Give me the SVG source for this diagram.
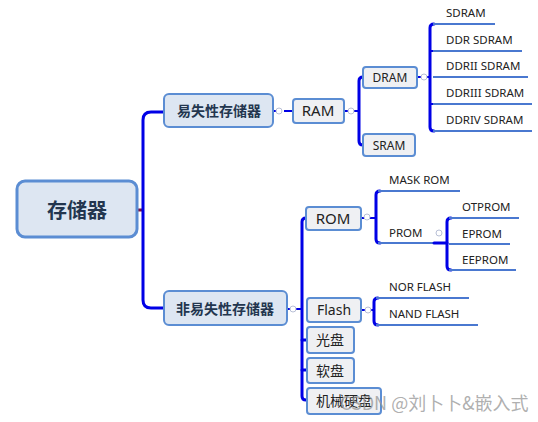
<svg xmlns="http://www.w3.org/2000/svg" width="538" height="422" viewBox="0 0 538 422">
<style>
.trunk{fill:none;stroke:#0000e6;stroke-width:3;stroke-linecap:round;stroke-linejoin:round}
.thin{fill:none;stroke:#0000e6;stroke-width:2}
.leaf{fill:none;stroke:#4a78d0;stroke-width:2}
.col{fill:#fff;stroke:#b8bfd6;stroke-width:1}
.b1{fill:#dde6f2;stroke:#5b8dd3;stroke-width:2}
.b2{fill:#eff0f3;stroke:#5b8dd3;stroke-width:2}
.root{fill:#dde6f2;stroke:#5b8dd3;stroke-width:3}
.cn{font-family:"Noto Sans CJK SC","Noto Sans",sans-serif;font-weight:bold;fill:#23364f;text-anchor:middle}
.en{font-family:"Noto Sans","Open Sans",sans-serif;fill:#222;text-anchor:middle}
.lf{font-family:"Noto Sans","Open Sans",sans-serif;fill:#222;font-size:11.5px}
.cz{font-family:"Noto Sans CJK SC",sans-serif;fill:#222;text-anchor:middle;font-size:14px}
</style>
<rect width="538" height="422" fill="#fff"/>
<g id="connectors">
  <line x1="137" y1="210" x2="143" y2="210" stroke="#7a1444" stroke-width="3"/>
  <path class="trunk" d="M163,112 H151 Q143,112 143,120 V300 Q143,308 151,308 H163"/>
  <!-- volatile to RAM -->
  <line class="thin" x1="274" y1="111" x2="293" y2="111" stroke-dasharray="3,2"/>
  <line class="thin" x1="284" y1="111" x2="293" y2="111"/>
  <circle class="col" cx="279" cy="111" r="3"/>
  <!-- RAM to DRAM/SRAM -->
  <line class="thin" x1="345" y1="111" x2="359" y2="111"/>
  <circle class="col" cx="351" cy="111" r="3"/>
  <path class="trunk" d="M363,77 Q359,77 359,81 V141 Q359,145 363,145"/>
  <!-- DRAM to leaves -->
  <line class="thin" x1="418" y1="77" x2="430" y2="77"/>
  <circle class="col" cx="424" cy="77" r="3"/>
  <path class="trunk" d="M434,24 Q430,24 430,28 V127 Q430,131 434,131"/>
  <line class="thin" x1="430" y1="51" x2="436" y2="51"/>
  <line class="thin" x1="430" y1="104" x2="436" y2="104"/>
  <line class="leaf" x1="433" y1="24" x2="495" y2="24"/>
  <line class="leaf" x1="433" y1="51" x2="522" y2="51"/>
  <line class="leaf" x1="433" y1="77" x2="528" y2="77"/>
  <line class="leaf" x1="433" y1="104" x2="532" y2="104"/>
  <line class="leaf" x1="433" y1="131" x2="532" y2="131"/>
  <!-- nonvolatile trunk -->
  <line class="thin" x1="288" y1="309" x2="302" y2="309"/>
  <circle class="col" cx="293" cy="309" r="3"/>
  <path class="trunk" d="M307,218 H306 Q302,218 302,222 V396 Q302,400 306,400 H307"/>
  <line class="trunk" x1="302" y1="340" x2="307" y2="340"/>
  <line class="trunk" x1="302" y1="370" x2="307" y2="370"/>
  <!-- ROM -->
  <line class="thin" x1="362" y1="218" x2="376" y2="218"/>
  <circle class="col" cx="367" cy="217" r="3"/>
  <path class="trunk" d="M380,191 Q376,191 376,195 V239 Q376,243 380,243"/>
  <line class="leaf" x1="378" y1="191" x2="460" y2="191"/>
  <line class="leaf" x1="378" y1="243" x2="434" y2="243"/>
  <line class="trunk" x1="434" y1="243" x2="447" y2="243"/>
  <circle class="col" cx="439" cy="233" r="3"/>
  <path class="trunk" d="M451,218 Q447,218 447,222 V266 Q447,270 451,270"/>
  <line class="leaf" x1="449" y1="218" x2="519" y2="218"/>
  <line class="leaf" x1="449" y1="244" x2="510" y2="244"/>
  <line class="leaf" x1="449" y1="270" x2="516" y2="270"/>
  <!-- Flash -->
  <line class="thin" x1="362" y1="310" x2="374" y2="310"/>
  <circle class="col" cx="368" cy="310" r="3"/>
  <path class="trunk" d="M378,298 Q374,298 374,302 V321 Q374,325 378,325"/>
  <line class="leaf" x1="376" y1="298" x2="469" y2="298"/>
  <line class="leaf" x1="376" y1="325" x2="478" y2="325"/>
</g>
<g id="n-root"><rect class="root" x="17" y="181" width="120" height="56" rx="8"/><text class="cn" x="77" y="218" font-size="20">存储器</text></g>
<g id="n-volatile"><rect class="b1" x="164" y="94" width="109" height="33" rx="5"/><text class="cn" x="219" y="116" font-size="14">易失性存储器</text></g>
<g id="n-ram"><rect class="b2" x="293" y="99" width="51" height="24" rx="3"/><text class="en" x="318" y="116" font-size="15">RAM</text></g>
<g id="n-dram"><rect class="b2" x="363" y="67" width="54" height="21" rx="3"/><text class="en" x="390" y="82" font-size="12">DRAM</text></g>
<g id="n-sram"><rect class="b2" x="363" y="134" width="52" height="22" rx="3"/><text class="en" x="389" y="150" font-size="12">SRAM</text></g>
<g id="n-sdram"><text class="lf" x="446" y="17">SDRAM</text></g>
<g id="n-ddr"><text class="lf" x="446" y="44">DDR SDRAM</text></g>
<g id="n-ddr2"><text class="lf" x="446" y="70">DDRII SDRAM</text></g>
<g id="n-ddr3"><text class="lf" x="446" y="97">DDRIII SDRAM</text></g>
<g id="n-ddr4"><text class="lf" x="446" y="124">DDRIV SDRAM</text></g>
<g id="n-nonvolatile"><rect class="b1" x="164" y="291" width="123" height="34" rx="5"/><text class="cn" x="225" y="314" font-size="14">非易失性存储器</text></g>
<g id="n-rom"><rect class="b2" x="306" y="207" width="55" height="23" rx="3"/><text class="en" x="333" y="224" font-size="15">ROM</text></g>
<g id="n-maskrom"><text class="lf" x="389" y="184">MASK ROM</text></g>
<g id="n-prom"><text class="lf" x="389" y="237">PROM</text></g>
<g id="n-otprom"><text class="lf" x="462" y="211">OTPROM</text></g>
<g id="n-eprom"><text class="lf" x="462" y="238">EPROM</text></g>
<g id="n-eeprom"><text class="lf" x="462" y="264">EEPROM</text></g>
<g id="n-flash"><rect class="b2" x="307" y="298" width="54" height="24" rx="3"/><text class="en" x="334" y="315" font-size="14">Flash</text></g>
<g id="n-norflash"><text class="lf" x="389" y="291">NOR FLASH</text></g>
<g id="n-nandflash"><text class="lf" x="389" y="318">NAND FLASH</text></g>
<g id="n-cd"><rect class="b2" x="307" y="327" width="47" height="26" rx="3"/><text class="cz" x="330" y="345">光盘</text></g>
<g id="n-floppy"><rect class="b2" x="307" y="358" width="47" height="25" rx="3"/><text class="cz" x="330" y="376">软盘</text></g>
<g id="n-hdd"><rect class="b2" x="307" y="388" width="74" height="26" rx="3"/><text class="cz" x="344" y="406">机械硬盘</text></g>
<text x="340" y="410" font-family="Noto Sans CJK SC,sans-serif" font-size="18" fill="#9a9a9a" fill-opacity="0.8">CSDN @刘卜卜&amp;嵌入式</text>
</svg>
